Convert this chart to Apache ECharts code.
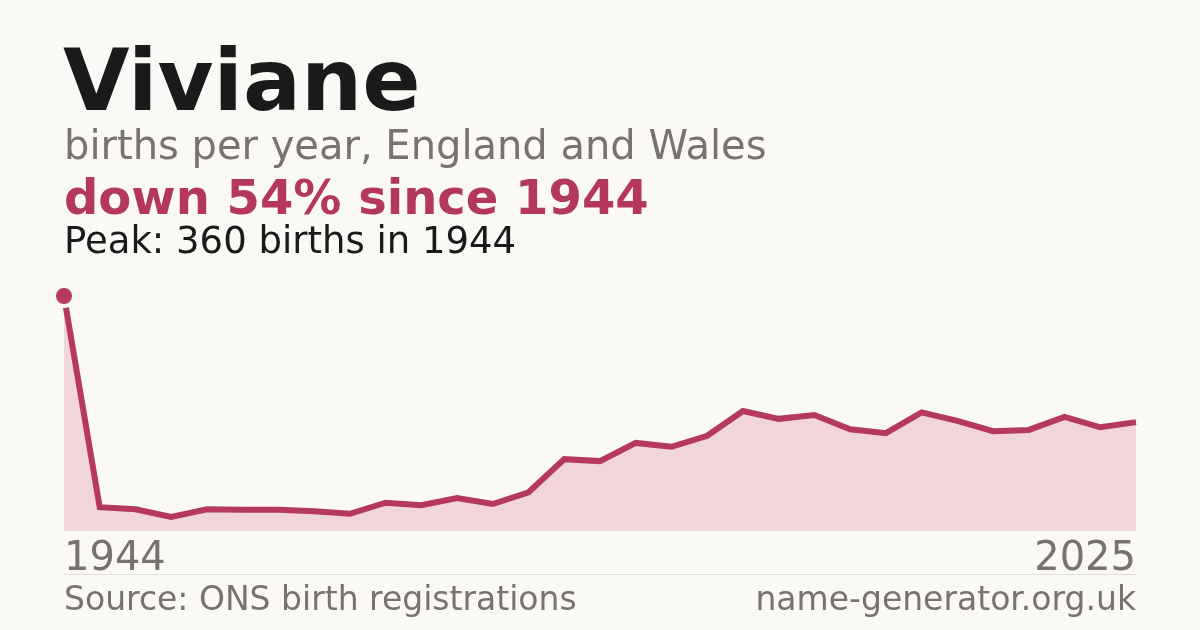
<!DOCTYPE html>
<html>
<head>
<meta charset="utf-8">
<script src="https://cdn.jsdelivr.net/npm/echarts@6/dist/echarts.min.js"></script>
<style>
html,body{margin:0;padding:0;background:#faf9f5;}
#c{width:1200px;height:630px;}
</style>
</head>
<body>
<div id="c"></div>
<script>
const years = ['1944','1996','1997','1998','1999','2000','2001','2002','2003','2004','2005','2006','2007','2008','2009','2010','2011','2012','2013','2014','2015','2016','2017','2018','2019','2020','2021','2022','2023','2024','2025'];
const births = [360,35,32,20,32,31,31,29,25,42,38,49,40,58,109,106,134,128,145,183,171,177,155,149,181,168,152,154,174,158,166];
const titleText = 'Viviane';
const subtitleText = 'births per year, England and Wales';
const headlineText = 'down 54% since 1944';
const peakText = 'Peak: 360 births in 1944';
const sourceText = 'Source: ONS birth registrations';
const siteText = 'name-generator.org.uk';

const FONT = '"DejaVu Sans", Verdana, sans-serif';
const chart = echarts.init(document.getElementById('c'), null, {renderer: 'canvas'});
chart.setOption({
  backgroundColor: '#faf9f5',
  animation: false,
  grid: {left: 64, right: 64, top: 296, bottom: 100},
  xAxis: {
    type: 'category',
    data: years,
    boundaryGap: false,
    axisLine: {show: true, lineStyle: {color: '#e6dcdc', width: 1}},
    axisTick: {show: false},
    splitLine: {show: false},
    axisLabel: {
      interval: function (i) { return i === 0 || i === years.length - 1; },
      showMinLabel: true,
      showMaxLabel: true,
      alignMinLabel: 'left',
      alignMaxLabel: 'right',
      margin: 10,
      fontFamily: FONT,
      fontSize: 40,
      color: '#77726b'
    }
  },
  yAxis: {
    type: 'value',
    min: 0,
    max: 360,
    show: false,
    splitLine: {show: false}
  },
  series: [{
    type: 'line',
    data: births,
    symbol: function (v, p) { return p.dataIndex === 0 ? 'circle' : 'none'; },
    symbolSize: 20,
    itemStyle: {color: '#b5395a', borderColor: '#faf9f5', borderWidth: 4},
    lineStyle: {color: '#b5395a', width: 6, join: 'miter'},
    areaStyle: {color: '#f1d5da', opacity: 1},
    clip: false,
    z: 3
  }],
  graphic: [
    {type: 'text', style: {text: titleText, x: 63, y: 88, verticalAlign: 'middle', font: 'bold 86px ' + FONT, fill: '#1a1a1a'}},
    {type: 'text', style: {text: subtitleText, x: 64, y: 149, verticalAlign: 'middle', font: '40px ' + FONT, fill: '#78736d'}},
    {type: 'text', style: {text: headlineText, x: 64, y: 202, verticalAlign: 'middle', font: 'bold 48px ' + FONT, fill: '#b3385a'}},
    {type: 'text', style: {text: peakText, x: 64, y: 243, verticalAlign: 'middle', font: '37px ' + FONT, fill: '#1a1a1a'}},
    {type: 'line', shape: {x1: 64, y1: 574.5, x2: 1136, y2: 574.5}, style: {stroke: '#e0ddd6', lineWidth: 1}},
    {type: 'text', style: {text: sourceText, x: 64, y: 601, verticalAlign: 'middle', font: '33px ' + FONT, fill: '#78736d'}},
    {type: 'text', style: {text: siteText, x: 1136, y: 601, align: 'right', verticalAlign: 'middle', font: '33px ' + FONT, fill: '#78736d'}}
  ]
});
</script>
</body>
</html>
